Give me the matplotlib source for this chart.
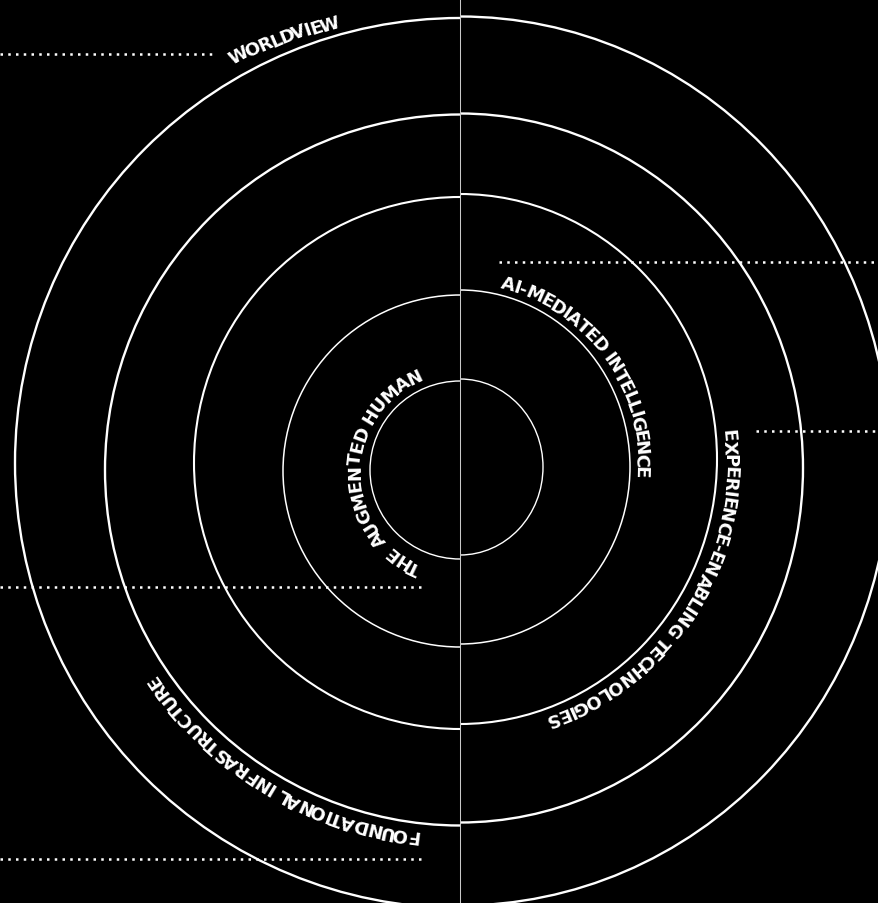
import numpy as np
import matplotlib
matplotlib.use("Agg")
import matplotlib.pyplot as plt
from matplotlib.patches import Arc
from matplotlib.font_manager import FontProperties, findfont, get_font
from matplotlib.ft2font import LoadFlags

W, H, DPI = 879, 904, 100
CX = 460  # x of the vertical divider / centre of the rings

# ring names, innermost first
RING_LABELS = ["THE AUGMENTED HUMAN", "AI-MEDIATED INTELLIGENCE",
               "EXPERIENCE-ENABLING TECHNOLOGIES", "FOUNDATIONAL INFRASTRUCTURE",
               "WORLDVIEW"]

# the two halves of every ring are drawn slightly offset: centre y, rx, ry (px)
LEFT_CY = [471, 472, 464, 471, 464]
LEFT_RX = [90, 177, 266, 355, 445]
LEFT_RY = [89, 176, 266, 355.5, 445]
RIGHT_CY = [468, 468, 460, 469, 462]
RIGHT_RX = [83, 170, 257, 343, 430]
RIGHT_RY = [88, 177, 265, 354.5, 444.5]
RING_LW = [1.0, 1.1, 1.5, 1.7, 1.7]

# label paths: centre y, start/end angle (deg, clockwise from 12 o'clock),
# start/end radius of the text's middle line
LABEL_CY = [471, 468, 460, 471, 464]
LABEL_THETA = [(202, 338), (12.7, 93.1), (83.6, 161.8), (186.5, 236.4), (-29.6, -15.4)]
LABEL_R = [(108, 105), (191, 182), (271, 276), (369, 372), (466, 459)]

# dotted leader lines: y, x-from, x-to
LEADER_Y = [55, 263, 432, 588, 860]
LEADER_X = [(0, 213), (499, 879), (756, 879), (0, 422), (0, 421)]


def arc_label(ax, text, cy, th, rr, fp):
    """Write text clockwise along a circle, letter tops pointing outward."""
    font = get_font(findfont(fp))
    font.set_size(fp.get_size_in_points(), 72)
    adv, shift = [], []
    for ch in text:
        g = font.load_char(ord(ch), flags=LoadFlags.NO_HINTING)
        a = g.linearHoriAdvance / 65536
        adv.append(a)
        # ink centre relative to the centre of the advance box
        shift.append((g.horiBearingX + g.width / 2) / 64 - a / 2 if ch != " " else 0.0)
    adv, shift = np.array(adv), np.array(shift)
    font.set_text("H", 0.0, flags=LoadFlags.NO_HINTING)
    cap = font.get_width_height()[1] / 64 * DPI / 72
    frac = (np.cumsum(adv) - adv / 2 + shift) / adv.sum()
    for ch, f in zip(text, frac):
        if ch == " ":
            continue
        t = th[0] + f * (th[1] - th[0])
        r = rr[0] + f * (rr[1] - rr[0]) - cap / 2
        x = CX + r * np.sin(np.radians(t))
        y = cy - r * np.cos(np.radians(t))
        ax.text(x, y, ch, rotation=-t, rotation_mode="anchor", ha="center",
                va="baseline", color="white", fontproperties=fp)


fig = plt.figure(figsize=(W / DPI, H / DPI), dpi=DPI, facecolor="black")
ax = fig.add_axes([0, 0, 1, 1])
ax.set_facecolor("black")
ax.set_xlim(0, W)
ax.set_ylim(H, 0)
ax.axis("off")

for i in range(len(RING_LABELS)):
    ax.add_patch(Arc((CX, LEFT_CY[i]), 2 * LEFT_RX[i], 2 * LEFT_RY[i],
                     theta1=90, theta2=270, color="white", lw=RING_LW[i]))
    ax.add_patch(Arc((CX, RIGHT_CY[i]), 2 * RIGHT_RX[i], 2 * RIGHT_RY[i],
                     theta1=-90, theta2=90, color="white", lw=RING_LW[i]))

ax.axvline(CX, color="#c8c8c8", lw=0.75)

for y, (x0, x1) in zip(LEADER_Y, LEADER_X):
    ax.hlines(y, x0, x1, colors="white", lw=1.8, linestyles=(0, (1, 2.1)))

fp = FontProperties(family="DejaVu Sans", weight="bold", size=13)
for i, lab in enumerate(RING_LABELS):
    arc_label(ax, lab, LABEL_CY[i], LABEL_THETA[i], LABEL_R[i], fp)

fig.savefig("out.png", dpi=DPI, facecolor="black")
